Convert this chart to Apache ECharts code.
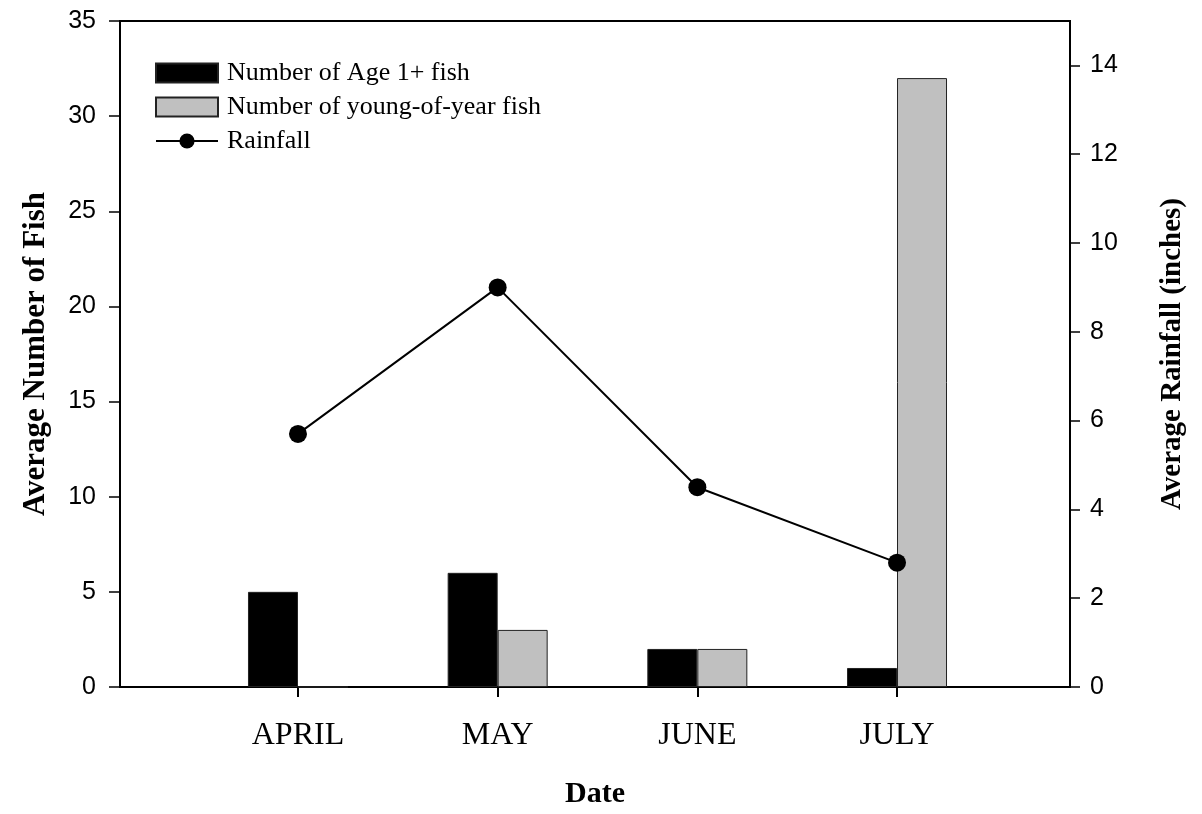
<!DOCTYPE html>
<html>
<head>
<meta charset="utf-8">
<title>Fish counts and rainfall</title>
<script src="https://cdn.jsdelivr.net/npm/echarts@6/dist/echarts.min.js"></script>
<style>
  html, body { margin: 0; padding: 0; background: #fff; }
  #chart { width: 1202px; height: 814px; }
</style>
</head>
<body>
<div id="chart"></div>
<script>
// Sampling months
const months = ['APRIL', 'MAY', 'JUNE', 'JULY'];
// Average number of fish per month
const age1Fish = [5, 6, 2, 1];
const youngOfYearFish = [0, 3, 2, 32];
// Average monthly rainfall (inches)
const rainfall = [5.7, 9.0, 4.5, 2.8];
// Tick labels
const fishTicks = [0, 5, 10, 15, 20, 25, 30, 35];
const rainTicks = [0, 2, 4, 6, 8, 10, 12, 14];

const monthPos = months.map((m, i) => i + 1);
const toPairs = arr => arr.map((v, i) => [monthPos[i], v]);

const serif = 'Liberation Serif';
const sans = 'Liberation Sans';

const chart = echarts.init(document.getElementById('chart'), null, { renderer: 'canvas' });

chart.setOption({
  animation: false,
  backgroundColor: '#ffffff',
  grid: {
    left: 120, right: 132, top: 21, bottom: 123,
    show: true, borderColor: '#000', borderWidth: 2, backgroundColor: 'transparent'
  },
  legend: {
    orient: 'vertical',
    left: 150, top: 55,
    itemWidth: 62, itemHeight: 19, itemGap: 8,
    textStyle: { fontFamily: serif, fontSize: 26, color: '#000', padding: [0, 0, 0, 4] },
    data: [
      { name: 'Number of Age 1+ fish', icon: 'rect' },
      { name: 'Number of young-of-year fish', icon: 'rect' },
      { name: 'Rainfall' }
    ]
  },
  xAxis: {
    type: 'value',
    min: 1 - 178 / 199.7,
    max: 4 + 173 / 199.7,
    name: 'Date',
    nameLocation: 'middle',
    nameGap: 92,
    nameTextStyle: { fontFamily: serif, fontSize: 30, fontWeight: 'bold', color: '#000' },
    axisLine: { show: true, lineStyle: { color: '#000', width: 2 } },
    axisTick: { show: true, length: 10, lineStyle: { color: '#000', width: 2 }, customValues: monthPos },
    axisLabel: {
      customValues: monthPos,
      margin: 33,
      fontFamily: serif, fontSize: 32, color: '#000',
      formatter: v => months[Math.round(v) - 1] || ''
    },
    splitLine: { show: false }
  },
  yAxis: [
    {
      type: 'value',
      min: 0, max: 35, interval: 5,
      position: 'left',
      name: 'Average Number of Fish',
      nameLocation: 'middle',
      nameGap: 69,
      nameRotate: 90,
      nameTextStyle: { fontFamily: serif, fontSize: 31, fontWeight: 'bold', color: '#000' },
      axisLine: { show: true, lineStyle: { color: '#000', width: 2 } },
      axisTick: { show: true, length: 11, lineStyle: { color: '#000', width: 1.5 }, customValues: fishTicks },
      axisLabel: { customValues: fishTicks, margin: 24, fontFamily: sans, fontSize: 25, color: '#000' },
      splitLine: { show: false }
    },
    {
      type: 'value',
      min: 0, max: 15,
      position: 'right',
      name: 'Average Rainfall (inches)',
      nameLocation: 'middle',
      nameGap: 88,
      nameRotate: 90,
      nameTextStyle: { fontFamily: serif, fontSize: 29, fontWeight: 'bold', color: '#000' },
      axisLine: { show: true, lineStyle: { color: '#000', width: 2 } },
      axisTick: { show: true, length: 10, lineStyle: { color: '#000', width: 1.5 }, customValues: rainTicks },
      axisLabel: { customValues: rainTicks, margin: 20, fontFamily: sans, fontSize: 25, color: '#000' },
      splitLine: { show: false }
    }
  ],
  series: [
    {
      name: 'Number of Age 1+ fish',
      type: 'bar',
      yAxisIndex: 0,
      barWidth: 50,
      barGap: '0%',
      itemStyle: { color: '#000000', borderColor: '#222', borderWidth: 1 },
      data: toPairs(age1Fish),
      z: 2
    },
    {
      name: 'Number of young-of-year fish',
      type: 'bar',
      yAxisIndex: 0,
      barWidth: 50,
      barGap: '0%',
      itemStyle: { color: '#c0c0c0', borderColor: '#222', borderWidth: 1 },
      data: toPairs(youngOfYearFish),
      z: 2
    },
    {
      name: 'Rainfall',
      type: 'line',
      yAxisIndex: 1,
      symbol: 'circle',
      symbolSize: 18,
      lineStyle: { color: '#000', width: 2 },
      itemStyle: { color: '#000' },
      data: toPairs(rainfall),
      z: 5
    }
  ]
});
</script>
</body>
</html>
